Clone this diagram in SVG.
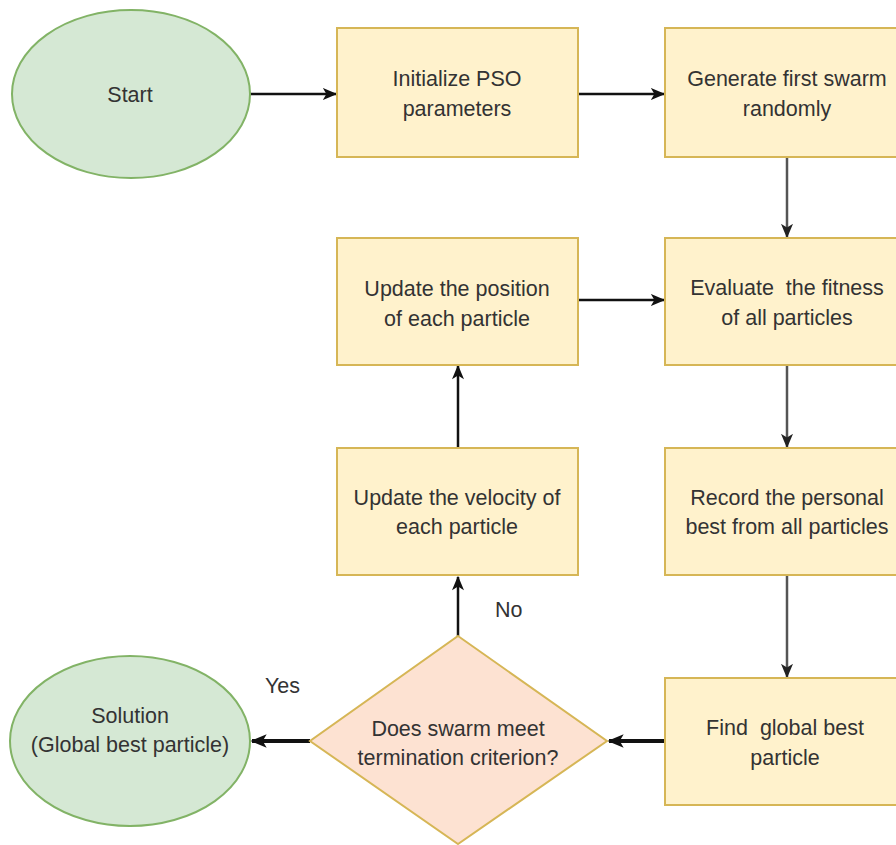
<svg xmlns="http://www.w3.org/2000/svg" width="896" height="845" viewBox="0 0 896 845">
<style>
.box{fill:#fff2cc;stroke:#d6b656;stroke-width:2}
.ell{fill:#d5e8d4;stroke:#82b366;stroke-width:2}
.dia{fill:#fde2d2;stroke:#d6b656;stroke-width:2}
.t{font-family:"Liberation Sans",Arial,sans-serif;font-size:21.5px;fill:#333;text-anchor:middle;dominant-baseline:central}
.l{font-family:"Liberation Sans",Arial,sans-serif;font-size:21.5px;fill:#333;dominant-baseline:central}
.c{fill:none;stroke:#111;stroke-width:2.5}
.g{fill:none;stroke:#555;stroke-width:2.5}
.k{fill:none;stroke:#111;stroke-width:4}
</style>
<defs>
<marker id="a" viewBox="0 0 12 10" refX="11" refY="5" markerWidth="15" markerHeight="12" markerUnits="userSpaceOnUse" orient="auto">
<path d="M0,0 L12,5 L0,10 L3,5 Z" fill="#111"/>
</marker>
<marker id="ag" viewBox="0 0 12 10" refX="11" refY="5" markerWidth="15" markerHeight="12" markerUnits="userSpaceOnUse" orient="auto">
<path d="M0,0 L12,5 L0,10 L3,5 Z" fill="#222"/>
</marker>
<marker id="ak" viewBox="0 0 12 10" refX="11" refY="5" markerWidth="16" markerHeight="14" markerUnits="userSpaceOnUse" orient="auto">
<path d="M0,0 L12,5 L0,10 L3,5 Z" fill="#111"/>
</marker>
</defs>
<g id="connectors">
<line class="c" x1="250" y1="94" x2="336" y2="94" marker-end="url(#a)"/>
<line class="c" x1="578" y1="94" x2="664" y2="94" marker-end="url(#a)"/>
<line class="g" x1="787" y1="157" x2="787" y2="237" marker-end="url(#ag)"/>
<line class="c" x1="578" y1="300" x2="664" y2="300" marker-end="url(#a)"/>
<line class="g" x1="787" y1="365" x2="787" y2="447" marker-end="url(#ag)"/>
<line class="g" x1="787" y1="575" x2="787" y2="677" marker-end="url(#ag)"/>
<line class="k" x1="665" y1="741" x2="609" y2="741" marker-end="url(#ak)"/>
<line class="k" x1="310" y1="741" x2="252" y2="741" marker-end="url(#ak)"/>
<line class="c" x1="458" y1="636" x2="458" y2="577" marker-end="url(#a)"/>
<line class="c" x1="458" y1="448" x2="458" y2="366" marker-end="url(#a)"/>
<text class="l" x="495" y="610">No</text>
<text class="l" x="265" y="686">Yes</text>
</g>
<g id="start">
<ellipse class="ell" cx="131" cy="94" rx="119" ry="84"/>
<text class="t" x="130" y="95">Start</text>
</g>
<g id="init">
<rect class="box" x="337" y="28" width="241" height="129"/>
<text class="t" x="457" y="79">Initialize PSO</text>
<text class="t" x="457" y="109">parameters</text>
</g>
<g id="generate">
<rect class="box" x="665" y="28" width="245" height="129"/>
<text class="t" x="787" y="79">Generate first swarm</text>
<text class="t" x="787" y="109">randomly</text>
</g>
<g id="position">
<rect class="box" x="337" y="238" width="241" height="127"/>
<text class="t" x="457" y="289">Update the position</text>
<text class="t" x="457" y="319">of each particle</text>
</g>
<g id="evaluate">
<rect class="box" x="665" y="238" width="245" height="127"/>
<text class="t" x="787" y="288" xml:space="preserve">Evaluate  the fitness</text>
<text class="t" x="787" y="318">of all particles</text>
</g>
<g id="velocity">
<rect class="box" x="337" y="448" width="241" height="127"/>
<text class="t" x="457" y="498">Update the velocity of</text>
<text class="t" x="457" y="527">each particle</text>
</g>
<g id="record">
<rect class="box" x="665" y="448" width="245" height="127"/>
<text class="t" x="787" y="498">Record the personal</text>
<text class="t" x="787" y="527">best from all particles</text>
</g>
<g id="find">
<rect class="box" x="665" y="678" width="245" height="127"/>
<text class="t" x="785" y="728" xml:space="preserve">Find  global best</text>
<text class="t" x="785" y="758">particle</text>
</g>
<g id="decision">
<polygon class="dia" points="458,636 607,741 458,844 310,741"/>
<text class="t" x="458" y="729">Does swarm meet</text>
<text class="t" x="458" y="758">termination criterion?</text>
</g>
<g id="solution">
<ellipse class="ell" cx="130" cy="741" rx="120" ry="85"/>
<text class="t" x="130" y="716">Solution</text>
<text class="t" x="130" y="745">(Global best particle)</text>
</g>
</svg>
